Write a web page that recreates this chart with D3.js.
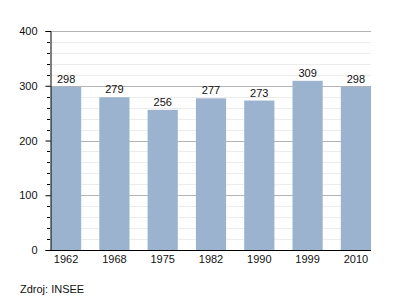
<!DOCTYPE html>
<html><head><meta charset="utf-8">
<script src="https://cdn.jsdelivr.net/npm/d3@7"></script>
<style>body{margin:0;background:#fff}text{font-family:"Liberation Sans",Arial,sans-serif}</style>
</head><body><svg id="c" width="400" height="300"></svg>
<script>
const categories = ["1962","1968","1975","1982","1990","1999","2010"];
const values = [298,279,256,277,273,309,298];
const yTicks = [0,100,200,300,400];
const source = "Zdroj: INSEE";

(function(){
const svg = d3.select("#c");
const mL = 50, mR = 371, mT = 31, mB = 250;
const x = d3.scaleBand().domain(categories).range([mL+1, mR]).paddingInner(0.375).paddingOuter(0);
const y = d3.scaleLinear().domain([0,400]).range([mB, mT]);

const minor = d3.range(0, 401, 20).filter(v => v % 100 !== 0);
svg.append("g").selectAll("line").data(minor).join("line")
  .attr("x1", mL).attr("x2", mR)
  .attr("y1", d => Math.round(y(d))+0.5).attr("y2", d => Math.round(y(d))+0.5)
  .attr("stroke", "#ececec");
svg.append("g").selectAll("line").data(yTicks.filter(d=>d>0)).join("line")
  .attr("x1", mL).attr("x2", mR)
  .attr("y1", d => Math.round(y(d))+0.5).attr("y2", d => Math.round(y(d))+0.5)
  .attr("stroke", "#b4b4b4");

svg.append("g").selectAll("rect").data(values).join("rect")
  .attr("x", (d,i) => x(categories[i])).attr("width", x.bandwidth())
  .attr("y", d => y(d)).attr("height", d => mB - y(d))
  .attr("fill", "#9bb3cf");

svg.append("g").selectAll("text").data(values).join("text")
  .attr("x", (d,i) => x(categories[i]) + x.bandwidth()/2)
  .attr("y", d => y(d) - 4)
  .attr("text-anchor", "middle").attr("font-size", 11).attr("fill", "#111")
  .text(d => d);

const ya = svg.append("g").attr("transform", `translate(${mL+0.5},0)`)
  .call(d3.axisLeft(y).tickValues(yTicks).tickSize(5).tickPadding(8));
ya.select(".domain").attr("stroke","#000");
ya.selectAll("text").attr("font-size", 11).attr("fill","#111").attr("font-family","Liberation Sans, Arial, sans-serif");
svg.append("g").selectAll("line").data(minor).join("line")
  .attr("x1", mL-3).attr("x2", mL)
  .attr("y1", d => Math.round(y(d))+0.5).attr("y2", d => Math.round(y(d))+0.5)
  .attr("stroke", "#000");

const xa = svg.append("g").attr("transform", `translate(0,${mB+0.5})`)
  .call(d3.axisBottom(x).tickSize(0).tickPadding(5));
xa.select(".domain").attr("stroke","#000").attr("d", `M${mL},0H${mR}`);
xa.selectAll("text").attr("font-size", 11).attr("fill","#111").attr("font-family","Liberation Sans, Arial, sans-serif");

svg.append("text").attr("x", 20).attr("y", 293).attr("font-size", 11).attr("fill","#111").text(source);
})();
</script></body></html>
